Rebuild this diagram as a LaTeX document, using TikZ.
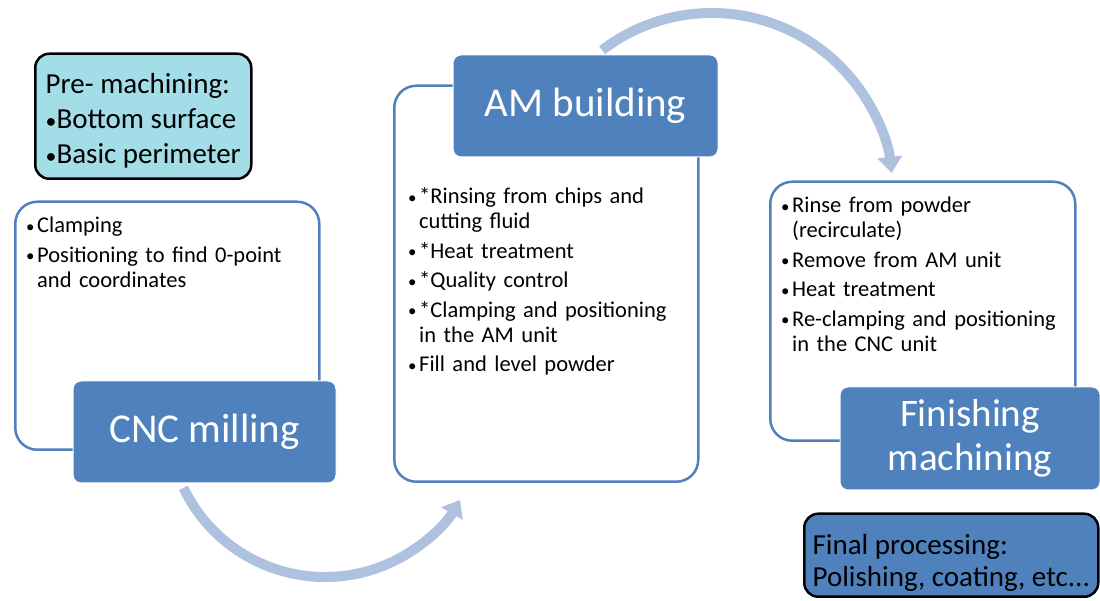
\documentclass[tikz,border=0pt]{standalone}
\usepackage{fontspec}
\usepackage{graphicx}
\setmainfont{Carlito}
\usetikzlibrary{arrows.meta,calc}
\definecolor{stepblue}{HTML}{4F81BD}
\definecolor{precyan}{HTML}{A3DDE8}
\definecolor{cyclecol}{HTML}{AEC2DF}
% small bullet and bullet line with hanging indent
\newcommand\smdot{\raisebox{0.5pt}{\scalebox{0.75}{\textbullet}}}
\newcommand\bul[1]{\par\hangindent=11pt\hangafter=1\noindent\makebox[11pt][l]{\smdot}#1\par}

\begin{document}
\begin{tikzpicture}[x=1pt,y=1pt,
  card/.style={draw=stepblue, line width=2.5pt, fill=white, rounded corners=22pt, anchor=south west},
  head/.style={fill=stepblue, draw=white, line width=1pt, rounded corners=8pt, text=white,
    font=\fontsize{41}{45}\selectfont, align=center},
  note/.style={draw=black, line width=2.5pt, rounded corners=14pt, anchor=south west, align=left},
  items/.style={anchor=north west, text width=300pt, align=left, inner sep=0pt,
    font=\fontsize{22.5}{25}\selectfont\setlength\parskip{4.5pt}},
  cyc/.style={draw=cyclecol, line width=10pt, -{Triangle[width=24pt,length=16pt]}}]

\useasboundingbox (0,0) rectangle (1100,601);

% cycle arrows
\coordinate (c1) at ($(712,407)+(127.4:181)$);
\draw[cyc] (c1) arc[start angle=127.4, end angle=6.7, radius=181];
\coordinate (c2) at ($(325,181)+(205.6:157)$);
\draw[cyc] (c2) arc[start angle=205.6, end angle=329.4, radius=157];

% white cards
\node[card, minimum width=304pt, minimum height=248pt] (w1) at (14,150) {};
\node[card, minimum width=304pt, minimum height=396pt] (w2) at (393,118) {};
\node[card, minimum width=305pt, minimum height=259pt] (w3) at (769,159) {};

% step titles
\node[head, minimum width=263pt, minimum height=102pt] (cnc) at (204.5,169) {CNC milling};
\node[head, minimum width=265pt, minimum height=102pt] (am) at (585.5,495) {AM building};
\node[head, minimum width=260pt, minimum height=103pt, font=\fontsize{39}{44}\selectfont]
  (fin) at (970,162.5) {Finishing\\machining};

% card contents
\node[items] (t1) at (26,398) {\bul{Clamping}\bul{Positioning to find 0-point\newline and coordinates}};
\node[items] (t2) at (408,427) {\bul{*Rinsing from chips and\newline cutting fluid}\bul{*Heat treatment}%
  \bul{*Quality control}\bul{*Clamping and positioning\newline in the AM unit}\bul{Fill and level powder}};
\node[items] (t3) at (781,418) {\bul{Rinse from powder\newline (recirculate)}\bul{Remove from AM unit}%
  \bul{Heat treatment}\bul{Re-clamping and positioning\newline in the CNC unit}};

% side notes (struts push the text a little lower)
\node[note, fill=precyan, minimum width=216pt, minimum height=125pt,
  font=\fontsize{29}{35}\selectfont] (pre) at (34,421)
  {\rule{0pt}{30pt}Pre- machining:\\\smdot Bottom surface\\\smdot Basic perimeter};
\node[note, fill=stepblue, minimum width=294pt, minimum height=83pt,
  font=\fontsize{29}{32}\selectfont] (fp) at (803,3)
  {\rule{0pt}{36pt}Final processing:\\Polishing, coating, etc...};

\end{tikzpicture}
\end{document}
